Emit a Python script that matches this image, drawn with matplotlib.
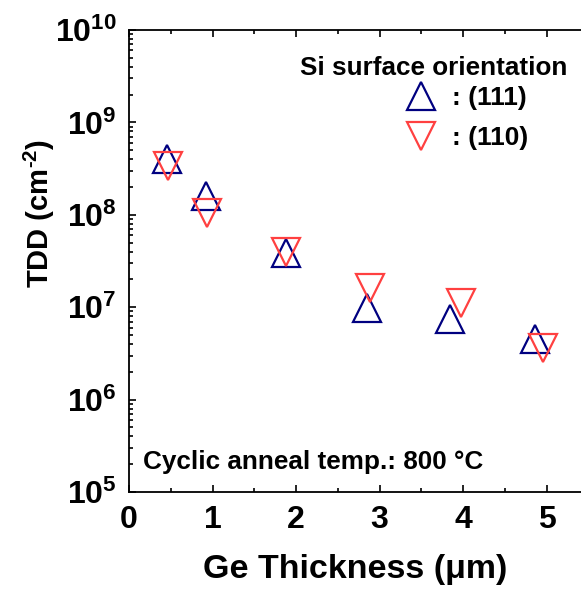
import math
import matplotlib
matplotlib.use("Agg")
from matplotlib import pyplot as plt
from matplotlib.ticker import FuncFormatter, LogLocator, MultipleLocator
from matplotlib.lines import Line2D

plt.rcParams['font.family'] = ['Liberation Sans', 'DejaVu Sans']
plt.rcParams['font.weight'] = 'bold'
plt.rcParams['mathtext.fontset'] = 'custom'
plt.rcParams['mathtext.rm'] = 'Liberation Sans:bold'
plt.rcParams['mathtext.bf'] = 'Liberation Sans:bold'
plt.rcParams['mathtext.default'] = 'bf'

# Si(111)
thick_111 = [0.46, 0.92, 1.88, 2.85, 3.84, 4.86]
tdd_111 = [4.0e8, 1.58e8, 3.9e7, 9.9e6, 7.5e6, 4.5e6]
# Si(110)
thick_110 = [0.47, 0.93, 1.88, 2.89, 3.97, 4.96]
tdd_110 = [3.4e8, 1.05e8, 4.0e7, 1.63e7, 1.12e7, 3.66e6]

blue = '#000080'
red = '#ff4040'
ms = 20

fig = plt.figure(figsize=(5.81, 5.9), dpi=100)
ax = fig.add_axes([129 / 581, 1 - 492 / 590, 452 / 581, 462 / 590])

ax.plot(thick_111, tdd_111, '^', ms=ms, mfc='none', mec=blue, mew=1.6, ls='none')
ax.plot(thick_110, tdd_110, 'v', ms=ms, mfc='none', mec=red, mew=1.6, ls='none')

ax.set_yscale('log')
ax.set_ylim(1e5, 1e10)
ax.set_xlim(0, 5.41)

ax.xaxis.set_major_locator(MultipleLocator(1))
ax.xaxis.set_minor_locator(MultipleLocator(0.5))
ax.yaxis.set_major_locator(LogLocator(base=10, numticks=10))
ax.yaxis.set_minor_locator(LogLocator(base=10, subs=range(2, 10), numticks=20))
ax.yaxis.set_major_formatter(FuncFormatter(lambda v, p: r'$\mathbf{10^{%d}}$' % round(math.log10(v))))
ax.yaxis.set_minor_formatter(FuncFormatter(lambda v, p: ''))

ax.spines['right'].set_visible(False)
for s in ['left', 'bottom', 'top']:
    ax.spines[s].set_linewidth(1.3)

ax.tick_params(which='both', direction='in', top=True, right=False, width=1.2)
ax.tick_params(which='major', length=5, labelsize=23, pad=9)
ax.tick_params(which='minor', length=3)

ax.set_xlabel('Ge Thickness (μm)', fontsize=24.5, fontweight='bold', labelpad=14)
ax.set_ylabel(r'TDD (cm$^{\text{-}2}$)', fontsize=21, fontweight='bold')
ax.yaxis.set_label_coords(-0.16, 0.604)

fig.text(300 / 581, 1 - 68 / 590, 'Si surface orientation', fontsize=18.8,
         fontweight='bold', ha='left', va='center')
fig.text(143 / 581, 1 - 462 / 590, 'Cyclic anneal temp.: 800 °C', fontsize=18.8,
         fontweight='bold', ha='left', va='center')

handles = [Line2D([], [], marker='^', ms=ms, mfc='none', mec=blue, mew=1.6, ls='none'),
           Line2D([], [], marker='v', ms=ms, mfc='none', mec=red, mew=1.6, ls='none')]
ax.legend(handles, [': (111)', ': (110)'], loc='upper left',
          bbox_to_anchor=(392 / 581, 1 - 73 / 590), bbox_transform=fig.transFigure,
          frameon=False, prop={'size': 19, 'weight': 'bold'}, handlelength=1.2,
          handletextpad=0.58, borderpad=0, labelspacing=0.6)

fig.savefig('out.png', dpi=100)
